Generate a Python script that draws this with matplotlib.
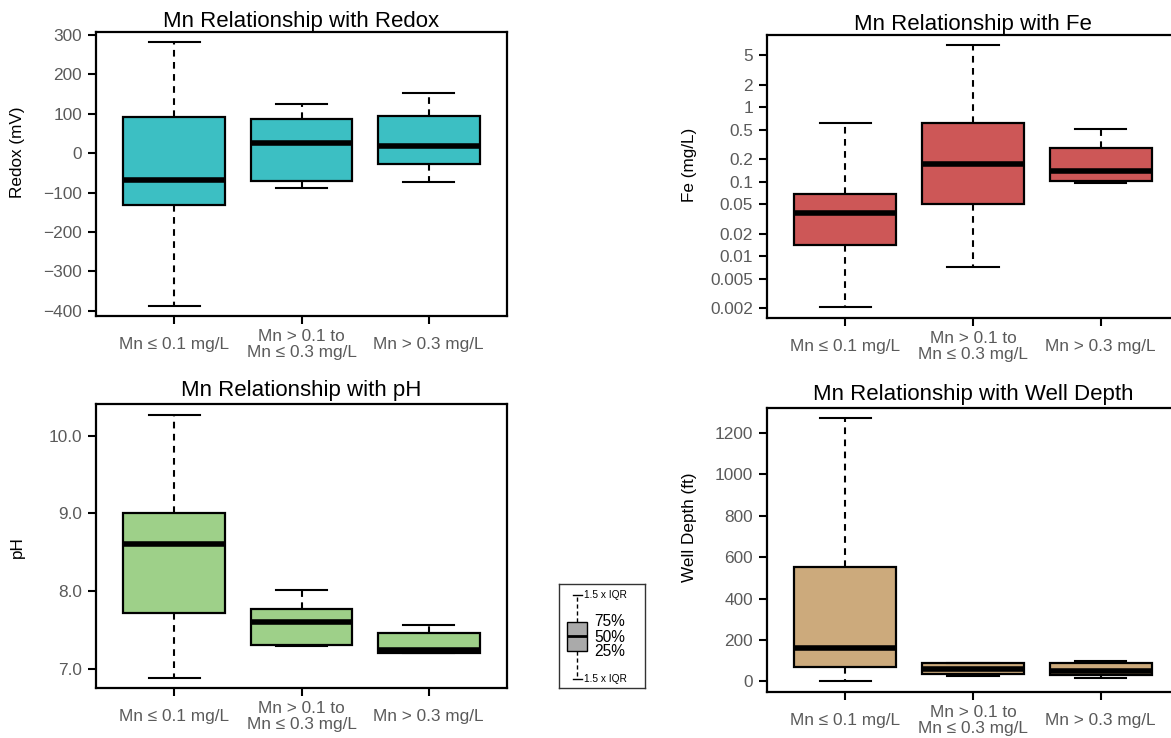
import matplotlib
matplotlib.use("Agg")
import matplotlib.pyplot as plt
import matplotlib.ticker as mticker

plt.rcParams['font.family'] = ['Liberation Sans', 'DejaVu Sans']

# ---------------- data ----------------
categories = ["Mn \u2264 0.1 mg/L", "Mn > 0.1 to\nMn \u2264 0.3 mg/L", "Mn > 0.3 mg/L"]

redox_whislo = [-388, -89, -74]
redox_q1 = [-132, -70, -27]
redox_med = [-68, 25, 19]
redox_q3 = [91, 87, 95]
redox_whishi = [281, 125, 152]
redox_ticks = [300, 200, 100, 0, -100, -200, -300, -400]

fe_whislo = [0.0021, 0.0071, 0.098]
fe_q1 = [0.0141, 0.051, 0.104]
fe_med = [0.0386, 0.172, 0.14]
fe_q3 = [0.068, 0.62, 0.285]
fe_whishi = [0.62, 6.9, 0.51]
fe_ticks = [5, 2, 1, 0.5, 0.2, 0.1, 0.05, 0.02, 0.01, 0.005, 0.002]
fe_ticklabels = ["5", "2", "1", "0.5", "0.2", "0.1", "0.05", "0.02", "0.01", "0.005", "0.002"]

ph_whislo = [6.88, 7.285, 7.20]
ph_q1 = [7.72, 7.30, 7.20]
ph_med = [8.60, 7.60, 7.235]
ph_q3 = [9.00, 7.77, 7.455]
ph_whishi = [10.27, 8.01, 7.56]
ph_ticks = [7.0, 8.0, 9.0, 10.0]

well_whislo = [0, 26, 16]
well_q1 = [68, 34, 28]
well_med = [163, 58, 48]
well_q3 = [551, 87, 86]
well_whishi = [1271, 88, 98]
well_ticks = [0, 200, 400, 600, 800, 1000, 1200]

# key (legend) box, in its own pixel-like units
key_stats = dict(whislo=9, q1=37, med=52, q3=66, whishi=93)

W, H = 1171, 738
fig = plt.figure(figsize=(W / 100, H / 100), dpi=100)


def px_axes(left, top, right, bottom):
    return fig.add_axes([left / W, 1 - bottom / H, (right - left) / W, (bottom - top) / H])


def make_stats(lo, q1, med, q3, hi):
    return [dict(whislo=a, q1=b, med=c, q3=d, whishi=e, fliers=[])
            for a, b, c, d, e in zip(lo, q1, med, q3, hi)]


tick_gray = '#5a5a5a'


def draw_panel(ax, stats, color, title, ylabel, title_pad, label_xy):
    ax.bxp(stats, positions=[1, 2, 3], widths=0.8, capwidths=0.4,
           patch_artist=True, showfliers=False,
           boxprops=dict(facecolor=color, edgecolor='black', linewidth=1.6),
           medianprops=dict(color='black', linewidth=4.0, solid_capstyle='butt'),
           whiskerprops=dict(color='black', linewidth=1.5, linestyle=(0, (3.2, 2.6))),
           capprops=dict(color='black', linewidth=1.5))
    ax.set_xlim(0.385, 3.615)
    ax.set_xticks([1, 2, 3])
    ax.set_xticklabels(categories, fontsize=12.4, color=tick_gray, linespacing=1.1)
    for lbl in ax.get_xticklabels():
        lbl.set_va('center')
    ax.tick_params(axis='x', length=6, width=1.5, pad=14.5, color='black')
    ax.tick_params(axis='y', length=6, width=1.5, pad=4, color='black',
                   labelsize=12.4, labelcolor=tick_gray)
    for s in ax.spines.values():
        s.set_linewidth(1.6)
    ax.set_title(title, fontsize=16, pad=title_pad)
    ax.set_ylabel(ylabel, fontsize=12.3)
    ax.yaxis.set_label_coords(*label_xy)
    ax.yaxis.label.set_va('center')


# Redox
ax1 = px_axes(96, 32, 507, 316)
draw_panel(ax1, make_stats(redox_whislo, redox_q1, redox_med, redox_q3, redox_whishi),
           '#3cbfc3', 'Mn Relationship with Redox', 'Redox (mV)', 3.5, (-0.192, 0.577))
ax1.set_ylim(-413, 307.6)
ax1.set_yticks(redox_ticks)

# Fe
ax2 = px_axes(767, 35, 1179, 318)
ax2.set_yscale('log')
draw_panel(ax2, make_stats(fe_whislo, fe_q1, fe_med, fe_q3, fe_whishi),
           '#cd5757', 'Mn Relationship with Fe', 'Fe (mg/L)', 3.5, (-0.189, 0.542))
ax2.set_ylim(0.00149, 9.35)
ax2.set_yticks(fe_ticks)
ax2.set_yticklabels(fe_ticklabels)
ax2.yaxis.set_minor_locator(mticker.NullLocator())

# pH
ax3 = px_axes(96, 404, 507, 688)
draw_panel(ax3, make_stats(ph_whislo, ph_q1, ph_med, ph_q3, ph_whishi),
           '#9ed089', 'Mn Relationship with pH', 'pH', 5.5, (-0.19, 0.495))
ax3.set_ylim(6.75, 10.41)
ax3.set_yticks(ph_ticks)
ax3.set_yticklabels([f"{v:.1f}" for v in ph_ticks])

# Well depth
ax4 = px_axes(767, 408, 1179, 692)
draw_panel(ax4, make_stats(well_whislo, well_q1, well_med, well_q3, well_whishi),
           '#ccaa7c', 'Mn Relationship with Well Depth', 'Well Depth (ft)', 5.5, (-0.189, 0.581))
ax4.set_ylim(-52, 1321)
ax4.set_yticks(well_ticks)

# Key box
axk = px_axes(559, 584, 645, 688)
axk.set_xlim(0, 86)
axk.set_ylim(0, 104)
axk.bxp([dict(key_stats, fliers=[])], positions=[18], widths=20, capwidths=9,
        patch_artist=True, showfliers=False,
        boxprops=dict(facecolor='#aaaaaa', edgecolor='black', linewidth=1.0),
        medianprops=dict(color='black', linewidth=2.0, solid_capstyle='butt'),
        whiskerprops=dict(color='black', linewidth=1.0, linestyle=(0, (3, 2))),
        capprops=dict(color='black', linewidth=1.0))
axk.set_xticks([])
axk.set_yticks([])
for s in axk.spines.values():
    s.set_linewidth(1.0)
    s.set_color('#333333')
axk.text(25, key_stats['whishi'], '1.5 x IQR', fontsize=7.3, va='center', ha='left')
axk.text(25, key_stats['whislo'], '1.5 x IQR', fontsize=7.3, va='center', ha='left')
axk.text(35, key_stats['q3'] + 1, '75%', fontsize=11.2, va='center', ha='left')
axk.text(35, key_stats['med'] - 1, '50%', fontsize=11.2, va='center', ha='left')
axk.text(35, key_stats['q1'] - 1, '25%', fontsize=11.2, va='center', ha='left')

fig.savefig('out.png', dpi=100)
